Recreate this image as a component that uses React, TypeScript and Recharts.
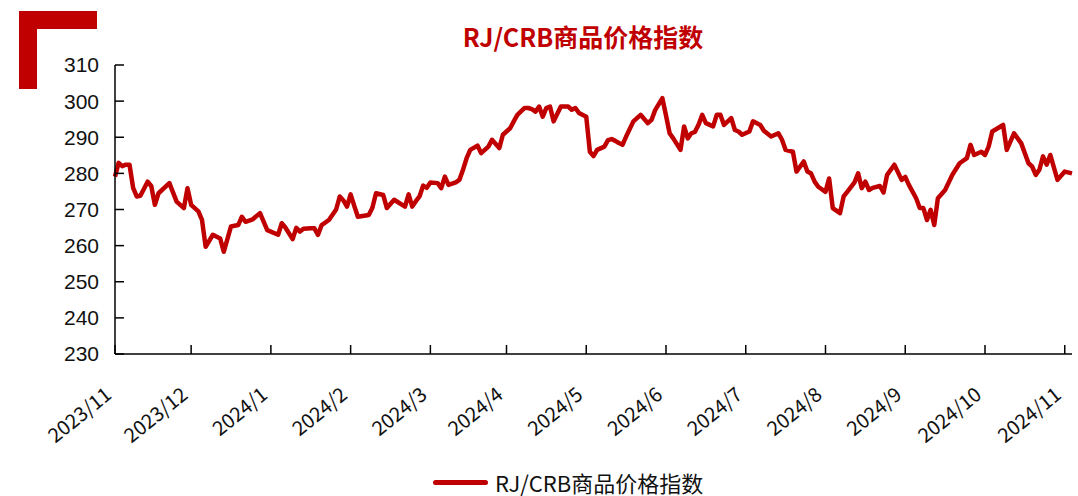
import { Legend, Line, LineChart, XAxis, YAxis } from "recharts";

// trading-day index since 2023/11/1 and the index level
const tradingDay = [
  0, 1, 2, 3, 4, 5, 6, 7, 9, 10, 11, 12, 15, 17, 19, 20, 21, 23, 24, 25, 27, 29,
  30, 32, 34, 35, 36, 38, 40, 42, 45, 46, 47, 49, 50, 51, 52, 54, 55, 56, 57,
  59, 61, 62, 63, 64, 65, 66, 67, 70, 71, 72, 74, 75, 77, 80, 81, 82, 83, 84,
  85, 86, 87, 89, 90, 91, 92, 94, 95, 96, 97, 98, 100, 101, 102, 103, 104, 106,
  107, 108, 109, 110, 111, 113, 114, 115, 116, 117, 118, 119, 120, 121, 123,
  125, 126, 127, 128, 130, 131, 132, 133, 135, 136, 137, 138, 139, 140, 141,
  143, 144, 145, 147, 148, 149, 151, 152, 153, 154, 156, 157, 158, 159, 160,
  161, 162, 163, 165, 166, 167, 168, 170, 171, 172, 173, 175, 176, 178, 179,
  181, 183, 184, 185, 187, 188, 190, 191, 192, 193, 194, 196, 197, 198, 200,
  201, 202, 204, 205, 206, 207, 208, 209, 211, 212, 213, 215, 217, 218, 219,
  221, 222, 223, 224, 225, 226, 227, 229, 231, 233, 235, 236, 237, 239, 240,
  241, 242, 245, 246, 248, 250, 252, 253, 254, 255, 256, 257, 258, 260, 262,
  264,
];

const rjcrb = [
  279.1, 282.9, 282.0, 282.4, 282.4, 276.0, 273.6, 273.8, 277.7, 276.5, 271.3,
  274.5, 277.3, 272.2, 270.4, 275.9, 271.3, 269.5, 267.1, 259.7, 263.0, 262.0,
  258.3, 265.3, 265.7, 268.0, 266.6, 267.3, 269.0, 264.3, 263.0, 266.2, 265.0,
  261.8, 264.9, 263.9, 264.7, 264.8, 264.8, 263.0, 265.7, 267.1, 270.0, 273.6,
  272.5, 270.8, 274.2, 271.0, 268.0, 268.5, 270.5, 274.5, 274.0, 270.4, 272.7,
  270.8, 274.2, 270.8, 272.3, 273.6, 276.6, 276.0, 277.5, 277.3, 275.9, 279.1,
  276.8, 277.5, 278.2, 281.0, 284.2, 286.5, 287.7, 285.6, 286.5, 287.4, 289.3,
  287.0, 290.7, 291.6, 292.5, 294.4, 296.2, 298.1, 298.1, 297.8, 297.1, 298.5,
  295.7, 298.1, 298.5, 294.4, 298.5, 298.5, 297.6, 298.1, 296.7, 295.7, 286.0,
  284.8, 286.5, 287.4, 289.2, 289.5, 289.0, 288.4, 287.9, 290.2, 294.4, 295.3,
  296.2, 293.9, 294.8, 297.5, 300.8, 296.0, 291.1, 289.7, 286.5, 293.0, 289.7,
  291.1, 291.5, 293.5, 296.2, 293.9, 293.0, 296.2, 296.2, 293.4, 295.3, 292.0,
  291.6, 290.7, 291.6, 294.4, 293.4, 291.8, 290.2, 291.1, 289.3, 286.5, 286.0,
  280.5, 283.3, 280.5, 280.0, 277.7, 276.3, 274.9, 278.6, 270.4, 269.0, 273.6,
  274.9, 277.5, 280.0, 275.9, 277.7, 275.4, 276.0, 276.5, 274.7, 279.6, 282.4,
  278.2, 279.0, 276.8, 273.1, 270.4, 270.4, 267.1, 269.9, 265.7, 273.1, 275.4,
  279.6, 282.8, 284.2, 287.9, 285.1, 286.0, 285.1, 287.4, 291.6, 293.4, 286.5,
  291.1, 288.3, 282.8, 281.9, 279.6, 281.0, 284.7, 282.4, 285.1, 278.2, 280.5,
  280.0,
];

const monthTicks = [0, 21, 43, 65, 87, 108, 130, 152, 174, 196, 218, 240, 262];
const monthLabels = [
  "2023/11", "2023/12", "2024/1", "2024/2", "2024/3", "2024/4", "2024/5",
  "2024/6", "2024/7", "2024/8", "2024/9", "2024/10", "2024/11",
];
const yTicks = [230, 240, 250, 260, 270, 280, 290, 300, 310];

const RED = "#C00000";
const CJK = '"Noto Sans CJK SC", "Noto Sans", sans-serif';

const data = tradingDay.map((d, i) => ({ day: d, value: rjcrb[i] }));

function MonthTick({ x, y, payload }: any) {
  const idx = monthTicks.indexOf(payload.value);
  return (
    <g transform={`translate(${x - 2},${y + 43})`}>
      <text
        x={0}
        y={0}
        textAnchor="end"
        transform="rotate(-39)"
        fontSize={20}
        fontFamily={CJK}
        fill="#111"
      >
        {monthLabels[idx]}
      </text>
    </g>
  );
}

function LegendBox() {
  return (
    <div style={{ display: "flex", alignItems: "center", height: 26, paddingLeft: 433 }}>
      <span
        style={{ width: 55, height: 5, background: RED, borderRadius: 3, display: "inline-block" }}
      />
      <span style={{ marginLeft: 7, fontSize: 22, lineHeight: "26px", fontFamily: CJK, color: "#111" }}>
        RJ/CRB商品价格指数
      </span>
    </div>
  );
}

export default function App() {
  return (
    <div style={{ position: "absolute", left: 0, top: 0, width: 1078, height: 496, background: "#fff" }}>
      <div style={{ position: "absolute", left: 19, top: 11, width: 78, height: 18, background: RED }} />
      <div style={{ position: "absolute", left: 19, top: 11, width: 18, height: 78, background: RED }} />
      <div
        style={{
          position: "absolute",
          left: 583,
          top: 18,
          transform: "translateX(-50%)",
          color: RED,
          fontSize: 25,
          fontWeight: 700,
          fontFamily: CJK,
          whiteSpace: "nowrap",
        }}
      >
        RJ/CRB商品价格指数
      </div>
      <LineChart width={1078} height={496} data={data} margin={{ top: 65, right: 6, left: 0, bottom: 36 }}>
        <XAxis
          dataKey="day"
          type="number"
          domain={[0, 264]}
          ticks={monthTicks}
          interval={0}
          height={80}
          tickSize={-9}
          tickMargin={9}
          tick={<MonthTick />}
          stroke="#000"
          strokeWidth={1.5}
        />
        <YAxis
          type="number"
          domain={[230, 310]}
          ticks={yTicks}
          interval={0}
          width={115}
          tickSize={-9}
          tickMargin={25}
          stroke="#000"
          strokeWidth={1.5}
          tick={{ fill: "#111", fontSize: 21, fontFamily: '"Liberation Sans", Arial, sans-serif' }}
        />
        <Line
          type="linear"
          dataKey="value"
          stroke={RED}
          strokeWidth={4.5}
          strokeLinejoin="round"
          dot={false}
          activeDot={false}
          isAnimationActive={false}
        />
        <Legend
          verticalAlign="bottom"
          wrapperStyle={{ top: 469, left: 0, width: 1078, height: 26 }}
          content={<LegendBox />}
        />
      </LineChart>
    </div>
  );
}
